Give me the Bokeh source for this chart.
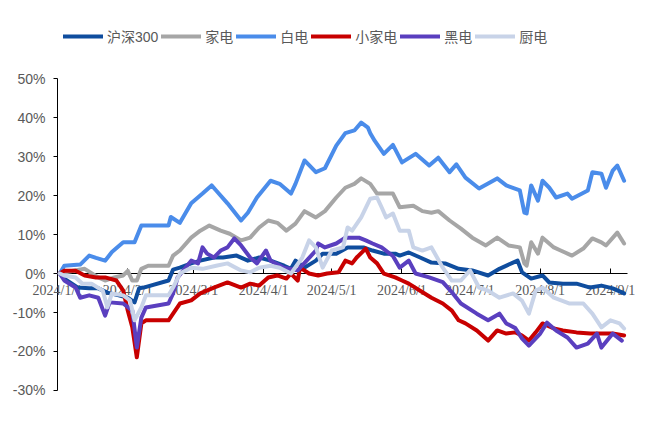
import pandas as pd
from bokeh.plotting import figure
from bokeh.models import (Range1d, FixedTicker, PrintfTickFormatter, Legend, LegendItem,
                          LabelSet, ColumnDataSource)
from bokeh.embed import file_html
from bokeh.resources import INLINE

series_names = ["沪深300", "家电", "白电", "小家电", "黑电", "厨电"]
series_colors = ["#0F4D9E", "#A6A6A6", "#4A8CEA", "#C80000", "#5A3FBF", "#C8D3E8"]

x_tick_labels = ["2024/1/1", "2024/2/1", "2024/3/1", "2024/4/1", "2024/5/1",
                 "2024/6/1", "2024/7/1", "2024/8/1", "2024/9/1"]
y_ticks = [-30, -20, -10, 0, 10, 20, 30, 40, 50]

hs300_dates = ["2024-01-02", "2024-01-04", "2024-01-10", "2024-01-15", "2024-01-19", "2024-01-23",
               "2024-01-28", "2024-02-01", "2024-02-04", "2024-02-06", "2024-02-08", "2024-02-19",
               "2024-02-21", "2024-02-24", "2024-02-29", "2024-03-04", "2024-03-10", "2024-03-14",
               "2024-03-20", "2024-03-25", "2024-03-30", "2024-04-04", "2024-04-10", "2024-04-13",
               "2024-04-15", "2024-04-19", "2024-04-24", "2024-04-27", "2024-05-03", "2024-05-08",
               "2024-05-15", "2024-05-19", "2024-05-24", "2024-05-29", "2024-05-31", "2024-06-04",
               "2024-06-09", "2024-06-14", "2024-06-20", "2024-06-26", "2024-07-02", "2024-07-09",
               "2024-07-14", "2024-07-20", "2024-07-22", "2024-07-24", "2024-07-28", "2024-08-02",
               "2024-08-05", "2024-08-11", "2024-08-17", "2024-08-23", "2024-08-28", "2024-09-02",
               "2024-09-07"]
hs300_vals = [0.0, -1.3, -3.6, -3.8, -3.8, -4.9,
              -5.6, -6.2, -7.4, -3.8, -3.6, -1.8,
              1.0, 1.5, 2.6, 3.3, 4.1, 4.1,
              4.6, 3.3, 4.1, 3.3, 2.0, 1.2,
              3.3, 1.5, 3.3, 5.1, 5.1, 6.7,
              6.7, 5.9, 5.1, 5.1, 4.6, 5.4,
              4.1, 2.8, 2.6, 1.2, 0.8, -0.5,
              1.2, 2.8, 3.3, 0.3, -1.3, -0.5,
              -2.3, -2.6, -2.6, -3.6, -3.1, -3.8,
              -5.1]

jd_dates = ["2024-01-02", "2024-01-08", "2024-01-13", "2024-01-19", "2024-01-22", "2024-01-26",
            "2024-01-30", "2024-02-01", "2024-02-03", "2024-02-05", "2024-02-07", "2024-02-10",
            "2024-02-19", "2024-02-21", "2024-02-24", "2024-02-29", "2024-03-04", "2024-03-08",
            "2024-03-13", "2024-03-17", "2024-03-22", "2024-03-26", "2024-03-30", "2024-04-03",
            "2024-04-07", "2024-04-11", "2024-04-15", "2024-04-19", "2024-04-24", "2024-04-28",
            "2024-05-03", "2024-05-07", "2024-05-11", "2024-05-14", "2024-05-18", "2024-05-21",
            "2024-05-28", "2024-05-31", "2024-06-06", "2024-06-10", "2024-06-14", "2024-06-17",
            "2024-06-22", "2024-06-27", "2024-07-02", "2024-07-08", "2024-07-13", "2024-07-18",
            "2024-07-23", "2024-07-25", "2024-07-26", "2024-07-28", "2024-07-31", "2024-08-02",
            "2024-08-07", "2024-08-10", "2024-08-15", "2024-08-20", "2024-08-24", "2024-08-28",
            "2024-08-30", "2024-09-04", "2024-09-07"]
jd_vals = [0.0, 0.7, 1.2, -1.0, -1.8, -1.0,
           -0.5, 0.7, -1.8, -1.8, 1.2, 2.0,
           2.0, 4.6, 5.9, 9.2, 11.0, 12.3,
           11.0, 10.2, 8.5, 9.2, 11.8, 13.6,
           13.0, 11.0, 12.8, 16.0, 14.4, 16.0,
           19.5, 22.0, 23.0, 24.4, 23.0, 20.5,
           20.5, 17.0, 17.4, 16.0, 15.6, 16.0,
           13.6, 11.5, 9.2, 7.2, 9.2, 7.2,
           6.7, 2.6, 2.0, 8.0, 5.1, 9.2,
           6.7, 5.9, 4.6, 6.4, 9.0, 8.0,
           7.2, 10.5, 7.7]

bd_dates = ["2024-01-02", "2024-01-04", "2024-01-11", "2024-01-15", "2024-01-18", "2024-01-22",
            "2024-01-25", "2024-01-30", "2024-02-04", "2024-02-07", "2024-02-19", "2024-02-20",
            "2024-02-24", "2024-02-29", "2024-03-05", "2024-03-09", "2024-03-11", "2024-03-16",
            "2024-03-22", "2024-03-25", "2024-03-29", "2024-04-04", "2024-04-08", "2024-04-13",
            "2024-04-15", "2024-04-19", "2024-04-24", "2024-04-28", "2024-05-03", "2024-05-07",
            "2024-05-11", "2024-05-14", "2024-05-17", "2024-05-18", "2024-05-20", "2024-05-24",
            "2024-05-28", "2024-06-01", "2024-06-07", "2024-06-13", "2024-06-17", "2024-06-22",
            "2024-06-25", "2024-06-29", "2024-07-05", "2024-07-13", "2024-07-17", "2024-07-23",
            "2024-07-25", "2024-07-26", "2024-07-28", "2024-07-31", "2024-08-02", "2024-08-05",
            "2024-08-08", "2024-08-13", "2024-08-15", "2024-08-22", "2024-08-24", "2024-08-28",
            "2024-08-30", "2024-09-02", "2024-09-04", "2024-09-07"]
bd_vals = [0.0, 2.0, 2.3, 4.6, 4.0, 3.3,
           5.5, 8.0, 8.0, 12.3, 12.3, 14.5,
           13.0, 18.0, 20.5, 22.6, 21.3, 18.0,
           13.6, 15.6, 19.5, 23.8, 23.0, 20.5,
           23.0, 29.0, 26.0, 27.0, 32.8, 36.0,
           36.7, 38.7, 37.4, 36.0, 34.0, 30.7,
           33.0, 28.5, 30.7, 27.7, 29.7, 26.0,
           28.0, 24.6, 21.8, 24.4, 22.6, 21.3,
           15.6, 15.4, 22.6, 18.7, 23.8, 22.0,
           19.5, 20.5, 19.2, 21.3, 26.0, 25.6,
           22.0, 26.4, 27.7, 23.8]

xjd_dates = ["2024-01-02", "2024-01-04", "2024-01-09", "2024-01-13", "2024-01-18", "2024-01-22",
             "2024-01-27", "2024-01-30", "2024-02-01", "2024-02-03", "2024-02-05", "2024-02-07",
             "2024-02-09", "2024-02-19", "2024-02-21", "2024-02-24", "2024-02-29", "2024-03-04",
             "2024-03-10", "2024-03-16", "2024-03-22", "2024-03-26", "2024-03-30", "2024-04-03",
             "2024-04-07", "2024-04-11", "2024-04-13", "2024-04-16", "2024-04-17", "2024-04-21",
             "2024-04-25", "2024-04-29", "2024-05-04", "2024-05-07", "2024-05-10", "2024-05-12",
             "2024-05-16", "2024-05-18", "2024-05-21", "2024-05-24", "2024-05-29", "2024-06-01",
             "2024-06-04", "2024-06-09", "2024-06-14", "2024-06-19", "2024-06-23", "2024-06-26",
             "2024-06-29", "2024-07-04", "2024-07-09", "2024-07-13", "2024-07-17", "2024-07-21",
             "2024-07-24", "2024-07-27", "2024-07-30", "2024-08-02", "2024-08-07", "2024-08-11",
             "2024-08-17", "2024-08-23", "2024-08-28", "2024-09-02", "2024-09-07"]
xjd_vals = [0.0, 0.7, 0.7, -0.5, -1.0, -1.0,
            -1.8, -4.4, -9.5, -13.8, -21.5, -12.8,
            -12.0, -12.0, -10.3, -7.7, -6.9, -5.1,
            -3.6, -2.3, -3.6, -2.6, -3.1, -1.0,
            -0.5, -1.3, 0.0, -1.8, 1.5, 0.0,
            -0.5, 0.0, 0.3, 3.3, 2.6, 4.1,
            6.4, 4.1, 2.6, 0.0, -1.0, -1.8,
            -2.6, -4.4, -6.2, -7.7, -9.5, -12.0,
            -12.8, -14.6, -17.2, -14.6, -15.4, -15.1,
            -15.9, -17.2, -15.1, -12.8, -14.1, -14.6,
            -15.1, -15.4, -15.4, -15.4, -15.9]

hd_dates = ["2024-01-02", "2024-01-04", "2024-01-09", "2024-01-11", "2024-01-15", "2024-01-19",
            "2024-01-22", "2024-01-24", "2024-01-30", "2024-02-03", "2024-02-05", "2024-02-07",
            "2024-02-09", "2024-02-19", "2024-02-21", "2024-02-23", "2024-02-29", "2024-03-03",
            "2024-03-05", "2024-03-07", "2024-03-10", "2024-03-13", "2024-03-16", "2024-03-19",
            "2024-03-22", "2024-03-26", "2024-03-29", "2024-04-02", "2024-04-04", "2024-04-10",
            "2024-04-16", "2024-04-24", "2024-04-25", "2024-04-28", "2024-05-03", "2024-05-07",
            "2024-05-13", "2024-05-16", "2024-05-19", "2024-05-23", "2024-05-28", "2024-05-31",
            "2024-06-04", "2024-06-07", "2024-06-13", "2024-06-19", "2024-06-23", "2024-06-27",
            "2024-07-04", "2024-07-09", "2024-07-14", "2024-07-17", "2024-07-21", "2024-07-24",
            "2024-07-27", "2024-08-01", "2024-08-04", "2024-08-08", "2024-08-13", "2024-08-17",
            "2024-08-22", "2024-08-26", "2024-08-28", "2024-09-02", "2024-09-06"]
hd_vals = [0.0, -1.8, -3.6, -6.2, -5.6, -6.2,
           -10.8, -7.4, -7.7, -9.5, -19.0, -11.3,
           -8.7, -7.7, -5.1, -1.0, 3.3, 2.6,
           6.7, 5.1, 4.1, 5.9, 6.7, 9.0,
           7.2, 4.1, 2.6, 5.9, 3.3, 1.5,
           0.8, 5.9, 7.7, 6.7, 7.7, 9.2,
           9.2, 8.5, 7.7, 6.7, 4.5, 1.5,
           3.3, 0.0, -1.0, -2.2, -4.8, -7.7,
           -10.3, -12.0, -10.3, -12.8, -14.0, -16.7,
           -18.5, -15.4, -12.6, -14.6, -16.4, -19.0,
           -18.0, -15.4, -19.0, -15.4, -17.2]

cd_dates = ["2024-01-02", "2024-01-04", "2024-01-09", "2024-01-12", "2024-01-16", "2024-01-21",
            "2024-01-23", "2024-01-25", "2024-01-30", "2024-02-02", "2024-02-04", "2024-02-07",
            "2024-02-09", "2024-02-19", "2024-02-21", "2024-02-24", "2024-02-29", "2024-03-05",
            "2024-03-11", "2024-03-16", "2024-03-22", "2024-03-26", "2024-03-30", "2024-04-04",
            "2024-04-08", "2024-04-13", "2024-04-14", "2024-04-18", "2024-04-21", "2024-04-24",
            "2024-04-27", "2024-05-01", "2024-05-06", "2024-05-08", "2024-05-10", "2024-05-14",
            "2024-05-18", "2024-05-21", "2024-05-23", "2024-05-25", "2024-05-28", "2024-05-31",
            "2024-06-04", "2024-06-06", "2024-06-10", "2024-06-14", "2024-06-19", "2024-06-23",
            "2024-06-27", "2024-07-01", "2024-07-05", "2024-07-09", "2024-07-14", "2024-07-20",
            "2024-07-24", "2024-07-27", "2024-07-30", "2024-08-02", "2024-08-07", "2024-08-14",
            "2024-08-20", "2024-08-24", "2024-08-28", "2024-09-01", "2024-09-05", "2024-09-07"]
cd_vals = [0.0, -0.5, -1.0, -2.6, -2.6, -4.4,
           -8.7, -5.1, -5.6, -6.9, -12.0, -8.7,
           -5.6, -5.6, -3.6, 0.0, 1.5, 1.2,
           2.0, 2.6, 0.8, 0.3, 1.5, 2.0,
           1.5, 0.0, 0.8, 4.1, 8.5, 6.7,
           1.5, 5.9, 6.7, 11.8, 11.0, 14.4,
           19.2, 19.5, 17.0, 14.4, 15.4, 11.0,
           11.0, 6.7, 5.9, 6.7, 1.5, -1.8,
           -1.8, 0.8, -3.6, -4.4, -6.2, -5.1,
           -7.0, -10.3, -4.4, -3.6, -6.2, -7.7,
           -7.7, -10.3, -13.8, -12.0, -12.8, -14.1]

all_dates = [hs300_dates, jd_dates, bd_dates, xjd_dates, hd_dates, cd_dates]
all_vals = [hs300_vals, jd_vals, bd_vals, xjd_vals, hd_vals, cd_vals]

TEXT = "#595959"
FONT = "Liberation Sans, Noto Sans CJK SC"

# axis span (Jan 1 .. Sep 8) and a wider frame so edge labels are not clipped
axis_start = pd.Timestamp("2024-01-01")
axis_end = pd.Timestamp("2024-09-08 12:00")
view_start = pd.Timestamp("2023-12-06 20:24")
view_end = pd.Timestamp("2024-09-14 05:45")

# frame spans y = 20 .. 420 px; 10% = 39 px
p = figure(width=653, height=434, output_backend="svg", toolbar_location=None,
           x_axis_type="datetime",
           x_range=Range1d(view_start, view_end),
           y_range=Range1d(-37.7, 64.9),
           min_border_left=0, min_border_right=13, min_border_top=20, min_border_bottom=14)
p.outline_line_color = None
p.grid.visible = False
p.background_fill_color = "white"
p.border_fill_color = "white"

tick_ts = [pd.to_datetime(t, format="%Y/%m/%d") for t in x_tick_labels]
tick_ms = [int(t.value // 10**6) for t in tick_ts]
tick_src = ColumnDataSource(dict(x=tick_ts, y=[0] * len(tick_ts), text=x_tick_labels))
tick_labels = LabelSet(x="x", y="y", text="text", source=tick_src, y_offset=-9,
                       text_align="center", text_baseline="top",
                       text_font=FONT, text_font_size="14px", text_color=TEXT,
                       level="annotation")
p.add_layout(tick_labels)

renderers = []
for name, color, ds, vs in zip(series_names, series_colors, all_dates, all_vals):
    r = p.line(pd.to_datetime(ds), vs, line_color=color, line_width=4, line_join="round",
               line_cap="round", level="overlay")
    renderers.append(r)

xa = p.xaxis[0]
xa.level = "underlay"
xa.ticker = FixedTicker(ticks=tick_ms)
xa.major_label_overrides = {m: "" for m in tick_ms}
xa.fixed_location = 0
xa.bounds = (axis_start, axis_end)
xa.axis_line_color = "black"
xa.axis_line_width = 1
xa.major_tick_in = 5
xa.major_tick_out = 0
xa.major_tick_line_color = "black"
xa.minor_tick_line_color = None
xa.major_label_text_font_size = "14px"

ya = p.yaxis[0]
ya.fixed_location = int(axis_start.value // 10**6)
ya.ticker = FixedTicker(ticks=y_ticks)
ya.formatter = PrintfTickFormatter(format="%d%%")
ya.bounds = (min(y_ticks), max(y_ticks))
ya.axis_line_color = "black"
ya.major_tick_in = 0
ya.major_tick_out = 4
ya.major_tick_line_color = "black"
ya.minor_tick_line_color = None
ya.major_label_text_font = FONT
ya.major_label_text_font_size = "14px"
ya.major_label_text_color = TEXT
ya.major_label_standoff = 8

items = [LegendItem(label=n, renderers=[r]) for n, r in zip(series_names, renderers)]
legend = Legend(items=items, orientation="horizontal", location=(63, 374),
                glyph_width=40, glyph_height=16, label_height=16, label_standoff=4,
                spacing=3, padding=0, margin=0, border_line_color=None,
                background_fill_alpha=0,
                label_text_font=FONT, label_text_font_size="14px", label_text_color=TEXT)
p.add_layout(legend, "center")

open("out.html", "w").write(file_html(p, INLINE))
